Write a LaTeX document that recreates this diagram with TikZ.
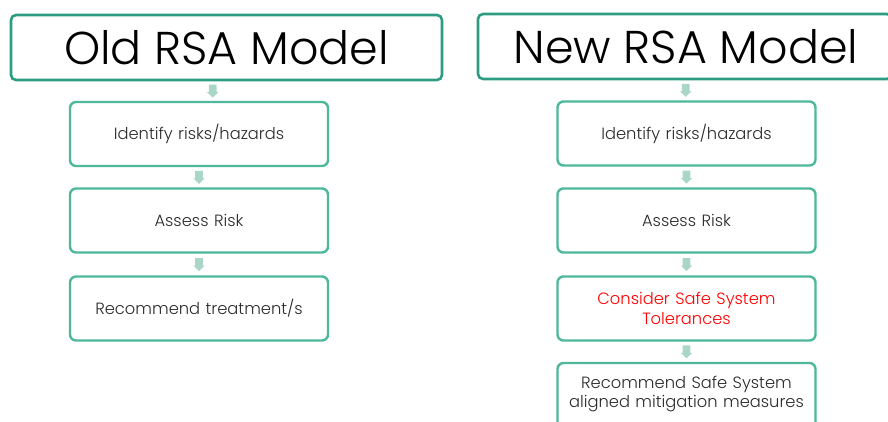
\documentclass[tikz,border=0pt]{standalone}
\usepackage{fontspec}
\setmainfont{Poppins}[UprightFont={* Light}]
\definecolor{titleteal}{HTML}{2E9C82}
\definecolor{boxteal}{HTML}{4DB89A}
\definecolor{arrowteal}{HTML}{A9D6C7}
\definecolor{boxtext}{HTML}{2B2B2B}
\begin{document}
\begin{tikzpicture}[x=1pt,y=-1pt,
  titlebox/.style={draw=titleteal,line width=2.6pt,rounded corners=5pt,fill=white,inner sep=0pt},
  stepbox/.style={draw=boxteal,line width=2.4pt,rounded corners=6pt,fill=white,inner sep=0pt,minimum width=258pt,minimum height=64pt,text width=254pt,align=center,font=\fontsize{16.3}{19.5}\selectfont,text=boxtext},
  flowarrow/.style={fill=arrowteal,draw=none}]
\useasboundingbox (0,0) rectangle (888,421);
\clip (0,0) rectangle (888,421);
% title boxes
\node[titlebox,minimum width=431pt,minimum height=65pt,font=\fontsize{46}{50}\selectfont] (oldt) at (226.5,47.5) {Old RSA Model};
\node[titlebox,minimum width=414pt,minimum height=65pt,font=\fontsize{46}{50}\selectfont] (newt) at (685,46.5) {\hspace*{0pt}New RSA Model\hspace*{-2pt}};
% left column
\node[stepbox] (l1) at (199,134) {Identify risks/hazards};
\node[stepbox] (l2) at (199,220.5) {Assess Risk};
\node[stepbox] (l3) at (199,308.5) {Recommend treatment/s};
% right column
\node[stepbox] (r1) at (686.5,133.5) {Identify risks/hazards};
\node[stepbox] (r2) at (686.5,220.5) {Assess Risk};
\node[stepbox,text=red] (r3) at (686.5,308.5) {Consider Safe System\\Tolerances};
\node[stepbox,minimum height=66pt] (r4) at (686.5,396) {\raisebox{18pt}{\parbox{254pt}{\centering Recommend Safe System\\aligned mitigation measures}}};
% arrows
\foreach \a/\b in {oldt/l1,l1/l2,l2/l3,newt/r1,r1/r2,r2/r3,r3/r4}{
  \path (\a.south) -- (\b.north) coordinate[pos=0.5] (m);
  \fill[flowarrow] ([shift={(-3.8,-6.5)}]m) -- ([shift={(3.8,-6.5)}]m) -- ([shift={(3.8,1)}]m) -- ([shift={(5.8,1)}]m) -- ([shift={(0,6.5)}]m) -- ([shift={(-5.8,1)}]m) -- ([shift={(-3.8,1)}]m) -- cycle;
}
\end{tikzpicture}
\end{document}
